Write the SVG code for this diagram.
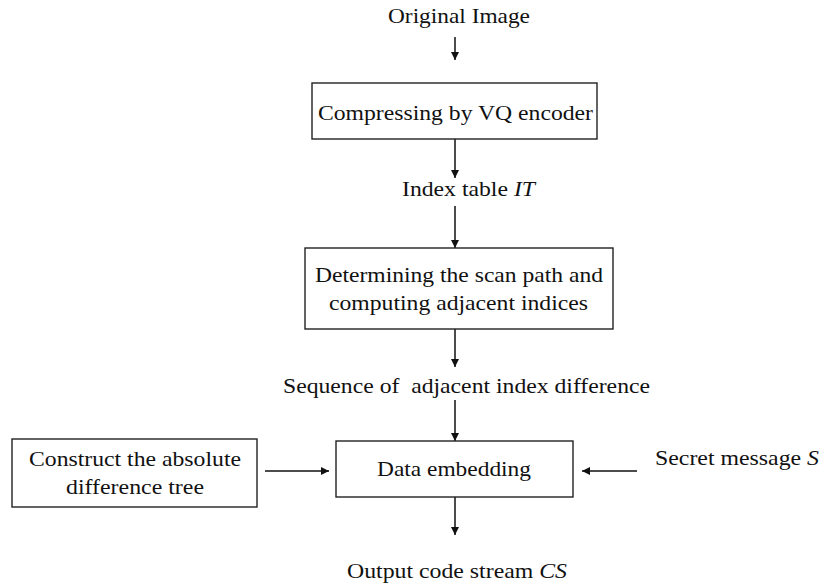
<svg xmlns="http://www.w3.org/2000/svg" width="822" height="587" viewBox="0 0 822 587">
<style>
text{font-family:"Liberation Serif","Times New Roman",serif;font-size:22px;fill:#111}
.box{fill:#fff;stroke:#222;stroke-width:1.4}
.ln{stroke:#111;stroke-width:1.5;fill:none;marker-end:url(#ah)}
</style>
<defs>
<marker id="ah" viewBox="0 0 10 10" refX="10" refY="5" markerWidth="8" markerHeight="8" markerUnits="userSpaceOnUse" orient="auto">
<path d="M0,0 L10,5 L0,10 z" fill="#111"/>
</marker>
</defs>
<rect width="822" height="587" fill="#fff"/>
<g id="connectors">
<line class="ln" x1="455" y1="37" x2="455" y2="60"/>
<line class="ln" x1="455" y1="139" x2="455" y2="178"/>
<line class="ln" x1="455" y1="206" x2="455" y2="248"/>
<line class="ln" x1="455" y1="329" x2="455" y2="367"/>
<line class="ln" x1="455" y1="400" x2="455" y2="441"/>
<line class="ln" x1="265" y1="471" x2="329" y2="471"/>
<line class="ln" x1="637" y1="471" x2="582" y2="471"/>
<line class="ln" x1="455" y1="497" x2="455" y2="535"/>
</g>
<g id="original-image"><text x="388" y="23" textLength="142" lengthAdjust="spacingAndGlyphs">Original Image</text></g>
<g id="vq-encoder">
<rect class="box" x="312" y="83" width="285" height="56"/>
<text x="318" y="120" textLength="275" lengthAdjust="spacingAndGlyphs">Compressing by VQ encoder</text>
</g>
<g id="index-table"><text x="402" y="196" textLength="133" lengthAdjust="spacingAndGlyphs">Index table <tspan font-style="italic">IT</tspan></text></g>
<g id="scan-path">
<rect class="box" x="305" y="248" width="308" height="81"/>
<text x="315" y="282" textLength="288" lengthAdjust="spacingAndGlyphs">Determining the scan path and</text>
<text x="329" y="310" textLength="259" lengthAdjust="spacingAndGlyphs">computing adjacent indices</text>
</g>
<g id="sequence"><text xml:space="preserve" x="283" y="393" textLength="367" lengthAdjust="spacingAndGlyphs">Sequence of  adjacent index difference</text></g>
<g id="tree">
<rect class="box" x="12" y="439" width="245" height="68"/>
<text x="29" y="466" textLength="212" lengthAdjust="spacingAndGlyphs">Construct the absolute</text>
<text x="66" y="494" textLength="138" lengthAdjust="spacingAndGlyphs">difference tree</text>
</g>
<g id="data-embedding">
<rect class="box" x="336" y="441" width="237" height="56"/>
<text x="377" y="476" textLength="154" lengthAdjust="spacingAndGlyphs">Data embedding</text>
</g>
<g id="secret"><text x="655" y="465" textLength="164" lengthAdjust="spacingAndGlyphs">Secret message <tspan font-style="italic">S</tspan></text></g>
<g id="output"><text x="347" y="578" textLength="220" lengthAdjust="spacingAndGlyphs">Output code stream <tspan font-style="italic">CS</tspan></text></g>
</svg>
